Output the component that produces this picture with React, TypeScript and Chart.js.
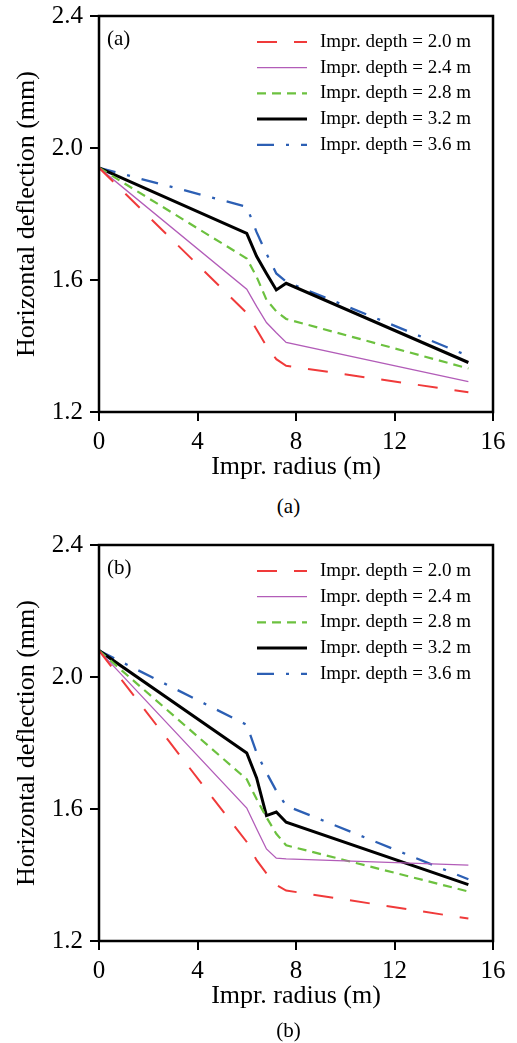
import React, { useEffect, useRef } from 'react';
import { Chart, registerables } from 'chart.js';

Chart.register(...registerables);

// ---------------- data ----------------
const radius = [0, 6, 6.4, 6.8, 7.2, 7.6, 15];

const depthLabels = [
  'Impr. depth = 2.0 m',
  'Impr. depth = 2.4 m',
  'Impr. depth = 2.8 m',
  'Impr. depth = 3.2 m',
  'Impr. depth = 3.6 m',
];

// panel (a)
const a_d20 = [1.94, 1.5, 1.45, 1.4, 1.36, 1.34, 1.26];
const a_d24 = [1.94, 1.572, 1.52, 1.471, 1.44, 1.411, 1.292];
const a_d28 = [1.94, 1.665, 1.61, 1.54, 1.505, 1.482, 1.332];
const a_d32 = [1.94, 1.741, 1.672, 1.62, 1.57, 1.59, 1.35];
const a_d36 = [1.94, 1.822, 1.745, 1.68, 1.62, 1.595, 1.37];

// panel (b)
const b_d20 = [2.08, 1.5, 1.445, 1.405, 1.37, 1.353, 1.268];
const b_d24 = [2.08, 1.603, 1.54, 1.479, 1.451, 1.449, 1.43];
const b_d28 = [2.08, 1.69, 1.63, 1.575, 1.525, 1.49, 1.35];
const b_d32 = [2.08, 1.77, 1.694, 1.58, 1.591, 1.56, 1.371];
const b_d36 = [2.08, 1.855, 1.77, 1.71, 1.655, 1.61, 1.387];

const xTicks = [0, 4, 8, 12, 16];
const yTicks = [1.2, 1.6, 2.0, 2.4];

const xTitle = 'Impr. radius (m)';
const yTitle = 'Horizontal deflection (mm)';

// ---------------- styles ----------------
const SERIF = '"Liberation Serif", "Times New Roman", Times, serif';

const lineStyles = [
  { color: '#f03a3a', width: 2, dash: [20, 17] },
  { color: '#b25cb8', width: 1.3, dash: [] as number[] },
  { color: '#6cc13f', width: 2.2, dash: [9, 6] },
  { color: '#000000', width: 3, dash: [] as number[] },
  { color: '#2c5fb4', width: 2.3, dash: [17, 12, 3, 12] },
];

function Panel({ series, tag }: { series: number[][]; tag: string }) {
  const ref = useRef<HTMLCanvasElement>(null);

  useEffect(() => {
    const overlay = {
      id: 'overlay',
      afterDraw(chart: any) {
        const { ctx, chartArea } = chart;
        const { left, top, right, bottom } = chartArea;
        ctx.save();
        // frame
        ctx.strokeStyle = '#000';
        ctx.lineWidth = 2.5;
        ctx.setLineDash([]);
        ctx.strokeRect(left, top, right - left, bottom - top);
        // panel tag
        ctx.fillStyle = '#000';
        ctx.font = `21px ${SERIF}`;
        ctx.textBaseline = 'middle';
        ctx.textAlign = 'left';
        ctx.fillText(tag, left + 8, top + 23);
        // legend
        chart.data.datasets.forEach((ds: any, i: number) => {
          const y = top + 26 + i * 25.7;
          ctx.beginPath();
          ctx.strokeStyle = ds.borderColor;
          ctx.lineWidth = ds.borderWidth;
          ctx.setLineDash(ds.borderDash || []);
          ctx.moveTo(left + 158, y);
          ctx.lineTo(left + 208, y);
          ctx.stroke();
          ctx.setLineDash([]);
          ctx.fillStyle = '#000';
          ctx.font = `19px ${SERIF}`;
          ctx.fillText(ds.label, left + 221, y);
        });
        ctx.restore();
      },
    };

    const tickFont = { family: SERIF, size: 25 };
    const titleFont = { family: SERIF, size: 26, lineHeight: 1 };
    const gridOpts = {
      display: true,
      drawOnChartArea: false,
      drawTicks: true,
      tickLength: 9,
      color: '#000',
      lineWidth: 2,
    };

    const chart = new Chart(ref.current as HTMLCanvasElement, {
      type: 'line',
      data: {
        datasets: series.map((vals, i) => ({
          label: depthLabels[i],
          data: radius.map((x, j) => ({ x, y: vals[j] })),
          borderColor: lineStyles[i].color,
          borderWidth: lineStyles[i].width,
          borderDash: lineStyles[i].dash,
          pointRadius: 0,
          tension: 0,
          fill: false,
        })),
      },
      options: {
        responsive: false,
        animation: false,
        devicePixelRatio: 1,
        layout: { padding: { left: 0, right: 24, top: 16, bottom: 0 } },
        plugins: {
          legend: { display: false },
          tooltip: { enabled: false },
        },
        scales: {
          x: {
            type: 'linear',
            min: 0,
            max: 16,
            afterBuildTicks: (s: any) => {
              s.ticks = xTicks.map((v) => ({ value: v }));
            },
            afterFit: (s: any) => {
              s.height = 78;
              s.paddingLeft = 0;
              s.paddingRight = 0;
            },
            ticks: {
              font: tickFont,
              color: '#000',
              padding: 6,
              maxRotation: 0,
              autoSkip: false,
              callback: (v: any) => String(v),
            },
            grid: gridOpts,
            border: { display: false },
            title: {
              display: true,
              text: xTitle,
              color: '#000',
              font: titleFont,
              padding: { top: 0, bottom: 10 },
            },
          },
          y: {
            type: 'linear',
            min: 1.2,
            max: 2.4,
            afterBuildTicks: (s: any) => {
              s.ticks = yTicks.map((v) => ({ value: v }));
            },
            afterFit: (s: any) => {
              s.width = 99;
              s.paddingTop = 0;
              s.paddingBottom = 0;
            },
            ticks: {
              font: tickFont,
              color: '#000',
              padding: 7,
              autoSkip: false,
              callback: (v: any) => Number(v).toFixed(1),
            },
            grid: gridOpts,
            border: { display: false },
            title: {
              display: true,
              text: yTitle,
              color: '#000',
              font: titleFont,
              padding: { top: 14, bottom: 0 },
            },
          },
        },
      } as any,
      plugins: [overlay],
    });
    return () => chart.destroy();
  }, [series, tag]);

  return <canvas ref={ref} width={517} height={490} style={{ display: 'block' }} />;
}

const captionStyle: React.CSSProperties = {
  position: 'absolute',
  left: 0,
  width: 577,
  textAlign: 'center',
  fontFamily: SERIF,
  fontSize: 21,
  lineHeight: '24px',
  color: '#000',
};

export default function App() {
  return (
    <div style={{ position: 'absolute', left: 0, top: 0, width: 517, height: 1043, background: '#fff' }}>
      <div style={{ position: 'absolute', left: 0, top: 0 }}>
        <Panel series={[a_d20, a_d24, a_d28, a_d32, a_d36]} tag="(a)" />
      </div>
      <div style={{ ...captionStyle, top: 494 }}>(a)</div>
      <div style={{ position: 'absolute', left: 0, top: 529 }}>
        <Panel series={[b_d20, b_d24, b_d28, b_d32, b_d36]} tag="(b)" />
      </div>
      <div style={{ ...captionStyle, top: 1018 }}>(b)</div>
    </div>
  );
}
